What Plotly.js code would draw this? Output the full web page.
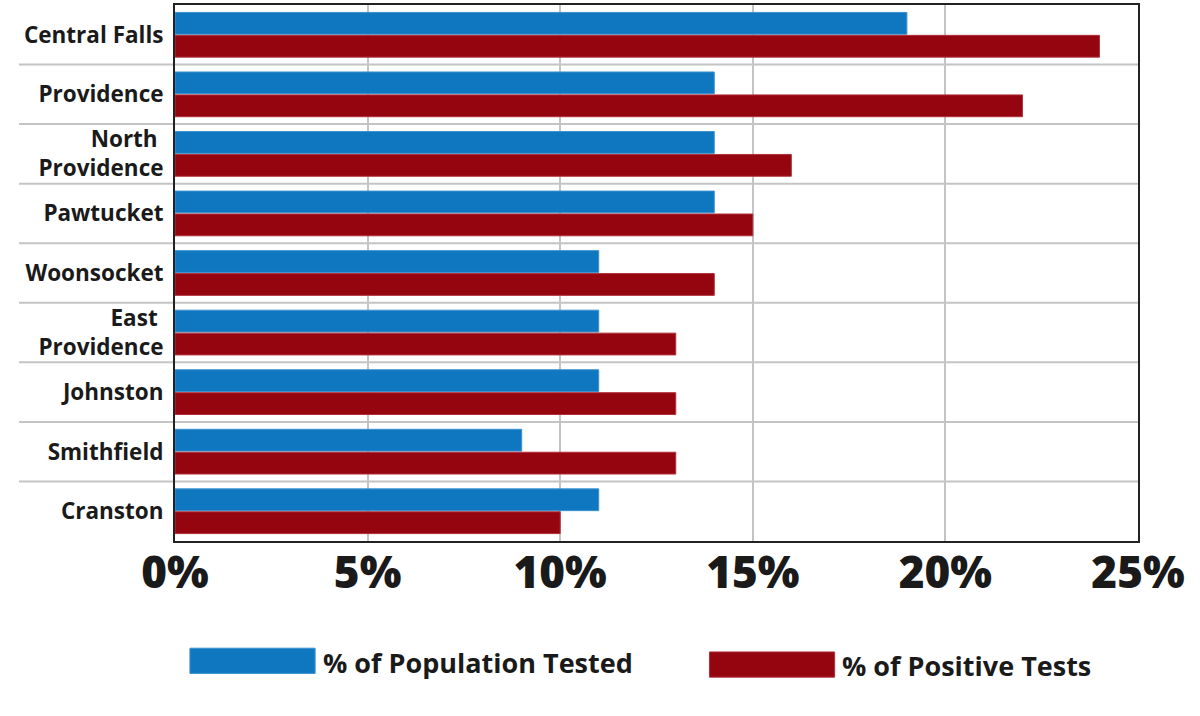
<!DOCTYPE html>
<html>
<head>
<meta charset="utf-8">
<script src="https://cdn.plot.ly/plotly-3.0.1.min.js"></script>
<style>html,body{margin:0;padding:0;background:#fff;}#chart{width:1200px;height:716px;}</style>
</head>
<body>
<div id="chart"></div>
<script>
var categories = ["Central Falls", "Providence", "North <br>Providence", "Pawtucket", "Woonsocket", "East <br>Providence", "Johnston", "Smithfield", "Cranston"];
var populationTested = [19, 14, 14, 14, 11, 11, 11, 9, 11];
var positiveTests = [24, 22, 16, 15, 14, 13, 13, 13, 10];
var seriesNames = ["% of Population Tested", "% of Positive Tests"];
var seriesColors = ["#0f77bf", "#950510"];
var tickValues = [0, 5, 10, 15, 20, 25];
var tickLabels = ["0%", "5%", "10%", "15%", "20%", "25%"];

var FONT = "Open Sans, Noto Sans, sans-serif";

var traces = [
  {type: "bar", orientation: "h", name: seriesNames[0], y: categories, x: populationTested,
   marker: {color: seriesColors[0], line: {color: "#3a92d0", width: 1}}, hoverinfo: "x+y"},
  {type: "bar", orientation: "h", name: seriesNames[1], y: categories, x: positiveTests,
   marker: {color: seriesColors[1], line: {color: "#b0303a", width: 1}}, hoverinfo: "x+y"}
];

var shapes = [];
for (var i = 0; i < categories.length - 1; i++) {
  shapes.push({type: "line", xref: "paper", yref: "y", x0: -0.162, x1: 1, y0: i + 0.5, y1: i + 0.5,
    line: {color: "#c4c4c4", width: 2}, layer: "below"});
}
// legend swatches
shapes.push({type: "rect", xref: "paper", yref: "paper", x0: 0.0155, x1: 0.1455, y0: -0.247, y1: -0.2, fillcolor: seriesColors[0], line: {color: "#3a92d0", width: 1}});
shapes.push({type: "rect", xref: "paper", yref: "paper", x0: 0.555, x1: 0.685, y0: -0.254, y1: -0.207, fillcolor: seriesColors[1], line: {color: "#b0303a", width: 1}});

var annotations = [
  {xref: "paper", yref: "paper", x: 0.152, y: -0.226, xanchor: "left", yanchor: "middle", text: seriesNames[0], showarrow: false,
   font: {family: FONT, size: 27, color: "#1a1a1a", weight: 700}},
  {xref: "paper", yref: "paper", x: 0.691, y: -0.233, xanchor: "left", yanchor: "middle", text: seriesNames[1], showarrow: false,
   font: {family: FONT, size: 27, color: "#1a1a1a", weight: 700}}
];

var layout = {
  width: 1200, height: 716,
  margin: {l: 175, r: 62, t: 5, b: 175},
  paper_bgcolor: "#ffffff", plot_bgcolor: "#ffffff",
  barmode: "group", bargap: 0.23, bargroupgap: 0.05,
  showlegend: false,
  xaxis: {range: [0, 25], tickvals: tickValues, ticktext: tickLabels, showgrid: true, gridcolor: "#c4c4c4", gridwidth: 2,
    zeroline: false, showline: true, linecolor: "#222222", linewidth: 2, mirror: true, ticks: "",
    tickfont: {family: FONT, size: 44, color: "#1a1a1a", weight: 800}, ticklabelstandoff: -8, fixedrange: true},
  yaxis: {autorange: "reversed", showgrid: false, zeroline: false, showline: true, linecolor: "#222222", linewidth: 2, mirror: true,
    ticks: "", ticklabelstandoff: 5,
    tickfont: {family: FONT, size: 22.5, color: "#1a1a1a", weight: 700}, fixedrange: true},
  shapes: shapes,
  annotations: annotations
};

Plotly.newPlot("chart", traces, layout, {displayModeBar: false, staticPlot: true});
</script>
</body>
</html>
